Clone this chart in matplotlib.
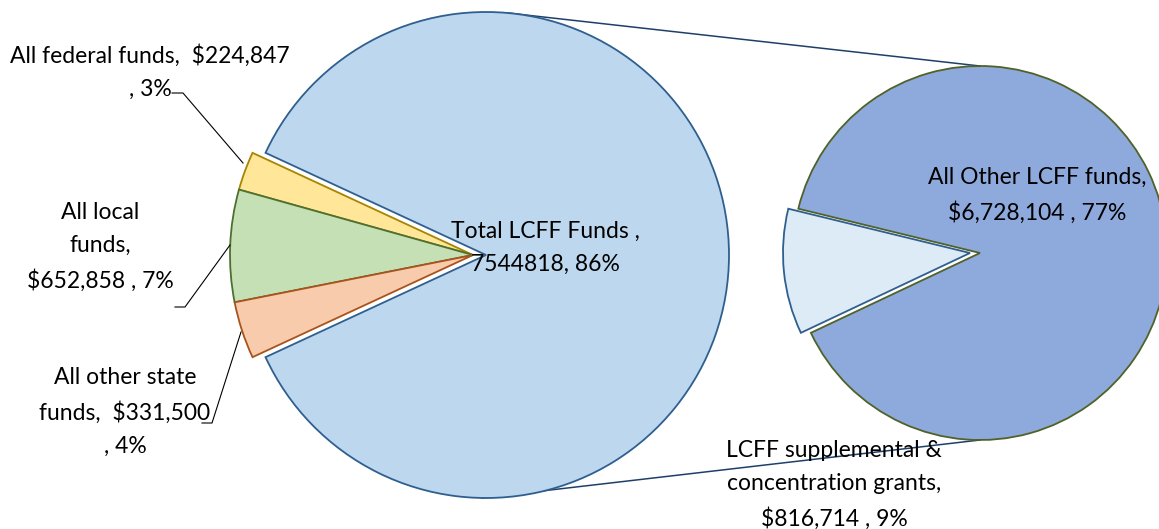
import matplotlib
matplotlib.use("Agg")
import matplotlib.pyplot as plt
import numpy as np

# data
main_labels = ["Total LCFF Funds", "All federal funds", "All local funds", "All other state funds"]
main_values = [7544818, 224847, 652858, 331500]
main_colors = ["#BDD7EE", "#FFE699", "#C5E0B4", "#F8CBAD"]
main_edges = ["#2F5F8F", "#A88400", "#4C7031", "#A9531C"]

sub_labels = ["LCFF supplemental & concentration grants", "All Other LCFF funds"]
sub_values = [816714, 6728104]
sub_colors = ["#DDEBF7", "#8EA9DB"]
sub_edges = ["#2F5F8F", "#4F6228"]

W, H = 1159, 529
FONT = ["Lato", "DejaVu Sans"]
FS = 16.5

# geometry in pixel units (y measured from top)
MAIN_C = (486, 255)
MAIN_R = 243
MAIN_SHIFT = 13
SUB_C = (980, 253)
SUB_R = 187
SUB_SHIFT = 10
SUB_START = 166.3


def to_ax(x, y_top):
    return x, H - y_top


fig = plt.figure(figsize=(W / 100, H / 100), dpi=100)
ax = fig.add_axes([0, 0, 1, 1])

total = sum(main_values)
small_frac = sum(main_values[1:]) / total
start = 180 + small_frac * 360 / 2
wedges, _ = ax.pie(
    main_values,
    colors=main_colors,
    startangle=start,
    counterclock=True,
    center=to_ax(*MAIN_C),
    radius=MAIN_R,
    wedgeprops={"linewidth": 1.3},
)
for i, w in enumerate(wedges):
    w.set_edgecolor(main_edges[i])
    if i > 0:
        cx, cy = to_ax(*MAIN_C)
        w.set_center((cx - MAIN_SHIFT, cy))

sub_wedges, _ = ax.pie(
    sub_values,
    colors=sub_colors,
    startangle=SUB_START,
    counterclock=True,
    center=to_ax(*SUB_C),
    radius=SUB_R,
    wedgeprops={"linewidth": 1.3},
)
for i, w in enumerate(sub_wedges):
    w.set_edgecolor(sub_edges[i])
    if i == 0:
        cx, cy = to_ax(*SUB_C)
        w.set_center((cx - SUB_SHIFT, cy))

# connector lines between the two pies
for a_main, a_sub in [(85, 90), (-91, -90)]:
    p0 = (MAIN_C[0] + MAIN_R * np.cos(np.radians(a_main)), MAIN_C[1] - MAIN_R * np.sin(np.radians(a_main)))
    p1 = (SUB_C[0] + SUB_R * np.cos(np.radians(a_sub)), SUB_C[1] - SUB_R * np.sin(np.radians(a_sub)))
    ax.plot([p0[0], p1[0]], [H - p0[1], H - p1[1]], color="#1F3F6B", linewidth=1.1, zorder=0.5)


def pct(v, t):
    return f"{round(v / t * 100):d}%"


def money(v):
    return f"${v:,}"


txt = dict(fontsize=FS, family=FONT, ha="center", va="center", linespacing=1.7, color="#000000")

ax.text(*to_ax(545, 248), f"Total LCFF Funds ,\n{main_values[0]}, {pct(main_values[0], total)}", **txt)
ax.text(*to_ax(150, 72), f"All federal funds,  {money(main_values[1])}\n, {pct(main_values[1], total)}", **txt)
ax.text(*to_ax(100, 247), f"All local\nfunds,\n{money(main_values[2])} , {pct(main_values[2], total)}", **txt)
ax.text(*to_ax(125, 412), f"All other state\nfunds,  {money(main_values[3])}\n, {pct(main_values[3], total)}", **txt)
ax.text(*to_ax(1037, 195), f"All Other LCFF funds,\n{money(sub_values[1])} , {pct(sub_values[1], total)}", **txt)
ax.text(*to_ax(834, 485), f"LCFF supplemental &\nconcentration grants,\n{money(sub_values[0])} , {pct(sub_values[0], total)}", **txt)

# leader lines for the small slices
leaders = [
    [(172, 93), (183, 93), (243, 163)],
    [(175, 307), (185, 307), (230, 245)],
    [(202, 423), (212, 423), (241, 332)],
]
for pts in leaders:
    xs = [p[0] for p in pts]
    ys = [H - p[1] for p in pts]
    ax.plot(xs, ys, color="#000000", linewidth=0.8, zorder=5)

ax.set_xlim(0, W)
ax.set_ylim(0, H)
ax.set_aspect("auto")
ax.axis("off")

fig.savefig("out.png", dpi=100)
